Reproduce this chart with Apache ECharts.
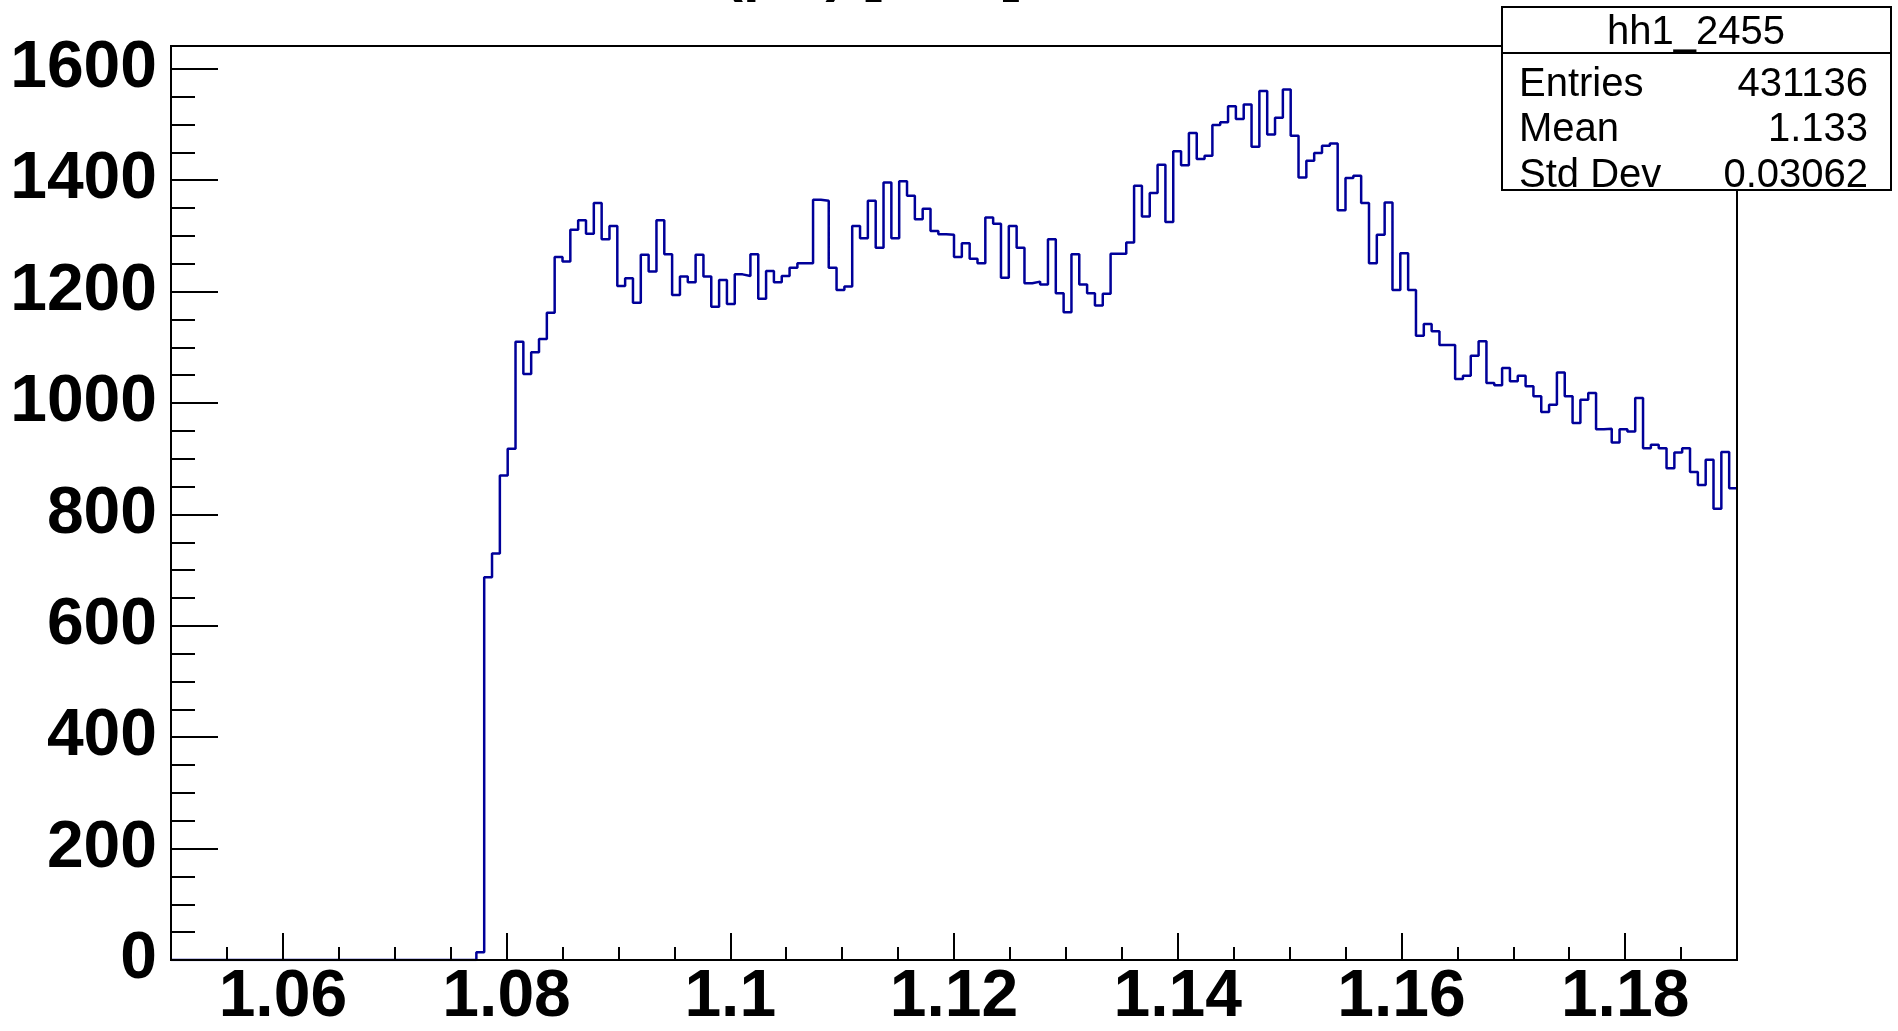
<!DOCTYPE html>
<html lang="en">
<head>
    <meta charset="UTF-8">
    <title>hh1_2455</title>
    <script src="https://cdn.jsdelivr.net/npm/echarts@6/dist/echarts.min.js"></script>
    <style>
        html, body { margin: 0; padding: 0; background: #fff; }
        #main { width: 1898px; height: 1031px; }
    </style>
</head>
<body>
    <div id="main"></div>
    <script type="text/javascript">
        // 200 bins between 1.05 and 1.19
        var xMin = 1.05;
        var xMax = 1.19;
        var binWidth = 0.0007;
        var yMax = 1641;

        var counts = [
            0, 0, 0, 0, 0, 0, 0, 0, 0, 0,
            0, 0, 0, 0, 0, 0, 0, 0, 0, 0,
            0, 0, 0, 0, 0, 0, 0, 0, 0, 0,
            0, 0, 0, 0, 0, 0, 0, 0, 0, 14,
            687, 730, 870, 918, 1110, 1052, 1091, 1115, 1162, 1262,
            1254, 1311, 1328, 1304, 1359, 1294, 1318, 1210, 1224, 1180,
            1266, 1236, 1328, 1267, 1194, 1227, 1217, 1266, 1227, 1173,
            1221, 1178, 1231, 1228, 1267, 1187, 1237, 1217, 1228, 1243,
            1251, 1251, 1365, 1363, 1243, 1203, 1209, 1318, 1296, 1363,
            1279, 1396, 1296, 1398, 1372, 1330, 1349, 1309, 1303, 1302,
            1262, 1287, 1259, 1251, 1333, 1322, 1225, 1318, 1279, 1215,
            1218, 1213, 1294, 1197, 1163, 1267, 1213, 1197, 1175, 1196,
            1268, 1268, 1288, 1390, 1335, 1377, 1428, 1325, 1452, 1427,
            1485, 1438, 1444, 1499, 1504, 1533, 1510, 1536, 1460, 1560,
            1482, 1512, 1563, 1480, 1405, 1435, 1449, 1462, 1466, 1346,
            1404, 1408, 1359, 1251, 1302, 1360, 1203, 1269, 1203, 1121,
            1142, 1129, 1104, 1104, 1043, 1049, 1085, 1111, 1036, 1032,
            1063, 1039, 1049, 1030, 1012, 984, 997, 1055, 1012, 964,
            1006, 1018, 953, 954, 929, 953, 949, 1009, 919, 925,
            919, 883, 911, 919, 876, 853, 898, 810, 912, 847
        ];

        var xTicks = [1.06, 1.08, 1.1, 1.12, 1.14, 1.16, 1.18];
        var xMinorTicks = [1.055, 1.065, 1.07, 1.075, 1.085, 1.09, 1.095, 1.105, 1.11, 1.115,
            1.125, 1.13, 1.135, 1.145, 1.15, 1.155, 1.165, 1.17, 1.175, 1.185];
        var yTicks = [0, 200, 400, 600, 800, 1000, 1200, 1400, 1600];
        var yMinorTicks = [50, 100, 150, 250, 300, 350, 450, 500, 550, 650, 700, 750,
            850, 900, 950, 1050, 1100, 1150, 1250, 1300, 1350, 1450, 1500, 1550];

        var histTitle = 'M(pπ) [GeV]';
        var statsTitle = 'hh1_2455';
        var statsNames = ['Entries', 'Mean', 'Std Dev'];
        var statsValues = ['431136', '1.133', '0.03062'];

        var font = 'Liberation Sans, Arial, Helvetica, sans-serif';

        var histData = [];
        for (var i = 0; i < counts.length; i++) {
            histData.push([xMin + i * binWidth, counts[i]]);
        }
        histData.push([xMax, counts[counts.length - 1]]);

        function plain(v) { return String(v); }

        var graphics = [
            {
                // title sits mostly above the canvas, only its lowest strokes show
                type: 'text', x: 673, y: -27, z: 100,
                style: { text: histTitle, font: 'bold 60px ' + font, fill: '#000', verticalAlign: 'middle' }
            },
            {
                type: 'rect', z: 100,
                shape: { x: 1502, y: 7, width: 389, height: 183 },
                style: { fill: '#fff', stroke: '#000', lineWidth: 2 }
            },
            {
                type: 'line', z: 101,
                shape: { x1: 1502, y1: 53, x2: 1891, y2: 53 },
                style: { stroke: '#000', lineWidth: 2 }
            },
            {
                type: 'text', x: 1696, y: 33, z: 101,
                style: { text: statsTitle, font: '40px ' + font, fill: '#000', align: 'center', verticalAlign: 'middle' }
            }
        ];
        for (var k = 0; k < statsNames.length; k++) {
            graphics.push({
                type: 'text', x: 1519, y: 84.5 + k * 45.5, z: 101,
                style: { text: statsNames[k], font: '40px ' + font, fill: '#000', verticalAlign: 'middle' }
            });
            graphics.push({
                type: 'text', x: 1868, y: 84.5 + k * 45.5, z: 101,
                style: { text: statsValues[k], font: '40px ' + font, fill: '#000', align: 'right', verticalAlign: 'middle' }
            });
        }

        var option = {
            animation: false,
            backgroundColor: '#fff',
            grid: {
                left: 171, right: 161, top: 46, bottom: 71,
                show: true, borderColor: '#000', borderWidth: 2,
                backgroundColor: 'transparent',
                containLabel: false,
                outerBoundsMode: 'none',
                z: 3
            },
            xAxis: [
                {
                    type: 'value', min: xMin, max: xMax, position: 'bottom', z: 3,
                    axisLine: { show: true, onZero: false, lineStyle: { color: '#000', width: 2 } },
                    axisTick: { show: true, inside: true, length: 27, customValues: xTicks, lineStyle: { color: '#000', width: 2 } },
                    axisLabel: {
                        show: true, customValues: xTicks, margin: 5, formatter: plain,
                        color: '#000', fontFamily: font, fontWeight: 'bold', fontSize: 66
                    },
                    splitLine: { show: false }
                },
                {
                    type: 'value', min: xMin, max: xMax, position: 'bottom', z: 3,
                    axisLine: { show: false },
                    axisTick: { show: true, inside: true, length: 13, customValues: xMinorTicks, lineStyle: { color: '#000', width: 2 } },
                    axisLabel: { show: false },
                    splitLine: { show: false }
                }
            ],
            yAxis: [
                {
                    type: 'value', min: 0, max: yMax, position: 'left', z: 3,
                    axisLine: { show: true, onZero: false, lineStyle: { color: '#000', width: 2 } },
                    axisTick: { show: true, inside: true, length: 47, customValues: yTicks, lineStyle: { color: '#000', width: 2 } },
                    axisLabel: {
                        show: true, customValues: yTicks, margin: 14, formatter: plain,
                        color: '#000', fontFamily: font, fontWeight: 'bold', fontSize: 66
                    },
                    splitLine: { show: false }
                },
                {
                    type: 'value', min: 0, max: yMax, position: 'left', z: 3,
                    axisLine: { show: false },
                    axisTick: { show: true, inside: true, length: 24, customValues: yMinorTicks, lineStyle: { color: '#000', width: 2 } },
                    axisLabel: { show: false },
                    splitLine: { show: false }
                }
            ],
            graphic: graphics,
            series: [
                {
                    name: statsTitle,
                    type: 'line',
                    step: 'end',
                    xAxisIndex: 0,
                    yAxisIndex: 0,
                    data: histData,
                    symbol: 'none',
                    z: 2,
                    lineStyle: { color: '#000099', width: 2.5 }
                }
            ]
        };

        var chart = echarts.init(document.getElementById('main'));
        chart.setOption(option);
    </script>
</body>
</html>
